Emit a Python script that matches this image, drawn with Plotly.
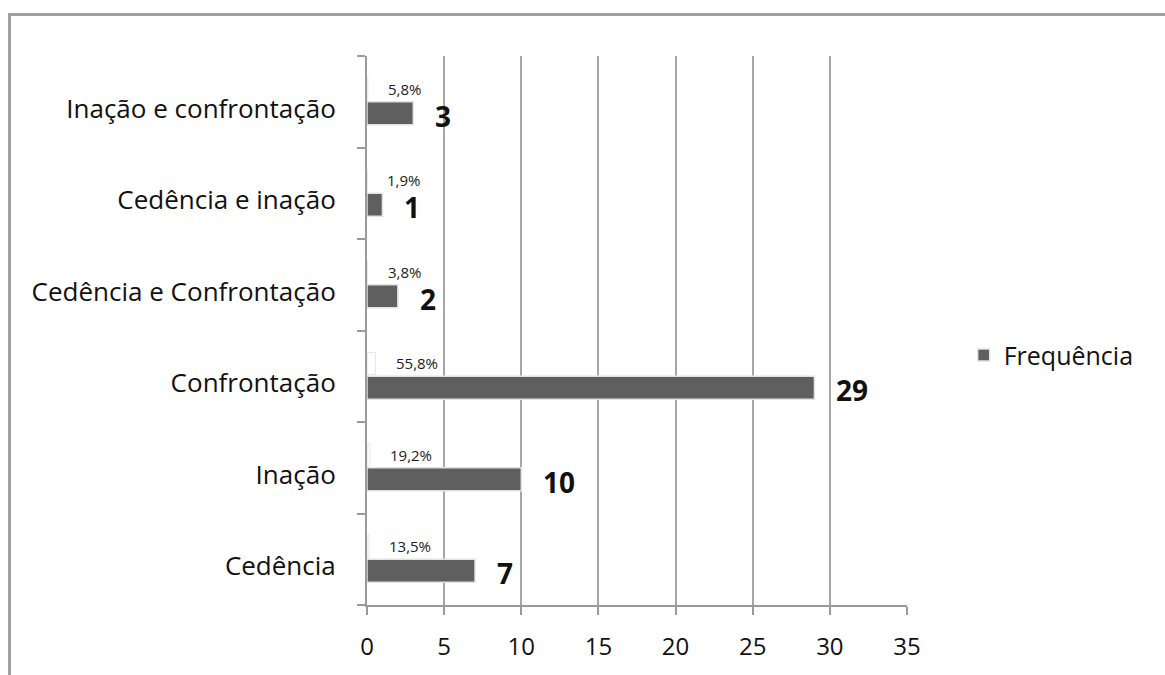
import plotly.graph_objects as go

categories = ["Cedência", "Inação", "Confrontação", "Cedência e Confrontação",
              "Cedência e inação", "Inação e confrontação"]
frequencia = [7, 10, 29, 2, 1, 3]
percentagem = [0.135, 0.192, 0.558, 0.038, 0.019, 0.058]
percent_labels = ["13,5%", "19,2%", "55,8%", "3,8%", "1,9%", "5,8%"]
x_ticks = [0, 5, 10, 15, 20, 25, 30, 35]

FONT = "'Open Sans', Lato, sans-serif"

fig = go.Figure()
fig.add_trace(go.Bar(
    y=categories, x=frequencia, orientation="h", name="Frequência",
    marker=dict(color="#5f5f5f", line=dict(color="#e2e2e2", width=1.5)),
    width=0.25, offset=-0.25,
))
fig.add_trace(go.Bar(
    y=categories, x=percentagem, orientation="h", name="Percentagem",
    marker=dict(color="#ffffff", line=dict(color="#e6e6e6", width=1)),
    width=0.24, offset=0.02, showlegend=False,
))

for cat, v in zip(categories, frequencia):
    fig.add_annotation(x=v, y=cat, xref="x", yref="y", text=f"<b>{v}</b>",
                       showarrow=False, xanchor="left", yanchor="middle",
                       xshift=20, yshift=-14,
                       font=dict(family=FONT, size=28, color="#111111"))
for cat, v, lab in zip(categories, percentagem, percent_labels):
    fig.add_annotation(x=v, y=cat, xref="x", yref="y", text=lab,
                       showarrow=False, xanchor="left", yanchor="middle",
                       xshift=18, yshift=13,
                       font=dict(family=FONT, size=15, color="#222222"))

fig.update_layout(
    width=1165, height=675,
    margin=dict(l=367, r=258, t=56, b=70),
    paper_bgcolor="white", plot_bgcolor="white",
    barmode="group",
    font=dict(family=FONT, size=24, color="#111111"),
    showlegend=True,
    legend=dict(x=1.105, y=0.455, xanchor="left", yanchor="middle",
                font=dict(family=FONT, size=25, color="#111111"),
                traceorder="normal"),
    xaxis=dict(range=[0, 35], tickvals=x_ticks, ticktext=[str(t) for t in x_ticks],
               showgrid=True, gridcolor="#a6a6a6", gridwidth=2,
               showline=True, linecolor="#9a9a9a", linewidth=2,
               ticks="outside", ticklen=8, tickcolor="#9a9a9a", tickwidth=2,
               ticklabelstandoff=11,
               tickfont=dict(family=FONT, size=24, color="#111111"),
               zeroline=False, fixedrange=True),
    yaxis=dict(showgrid=False, showline=True, linecolor="#9a9a9a", linewidth=2,
               ticks="outside", ticklen=8, tickcolor="#9a9a9a", tickwidth=2,
               tickson="boundaries", ticklabelstandoff=24, ticklabelshift=7,
               tickfont=dict(family=FONT, size=26, color="#111111"),
               fixedrange=True),
)

fig.add_shape(type="rect", xref="paper", yref="paper",
              x0=-0.662, x1=1.6, y0=-0.3, y1=1.0756,
              line=dict(color="#a0a0a0", width=3), layer="below")

fig.write_html("out.html")
